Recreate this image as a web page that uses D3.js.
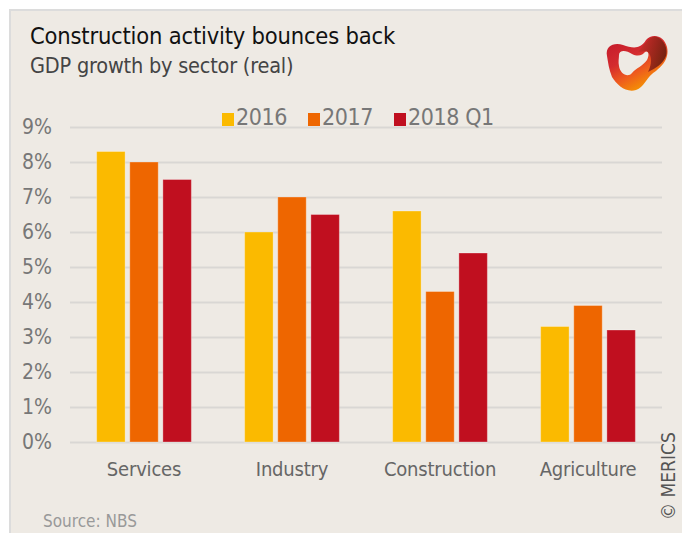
<!DOCTYPE html>
<html>
<head>
<meta charset="utf-8">
<script src="https://cdn.jsdelivr.net/npm/d3@7"></script>
<style>
  body { margin: 0; background: #fff; }
  svg text { font-family: "Liberation Sans Narrow", "DejaVu Sans Condensed", "Roboto", sans-serif; font-stretch: condensed; }
</style>
</head>
<body>
<div id="chart"></div>
<script>
// data
var sectors = ["Services", "Industry", "Construction", "Agriculture"];
var periods = ["2016", "2017", "2018 Q1"];
var growth2016 = [8.3, 6.0, 6.6, 3.3];
var growth2017 = [8.0, 7.0, 4.3, 3.9];
var growth2018q1 = [7.5, 6.5, 5.4, 3.2];
var yTicks = [0, 1, 2, 3, 4, 5, 6, 7, 8, 9];
var colors = ["#fbba00", "#ee6600", "#c00f1f"];

var series = [growth2016, growth2017, growth2018q1];
var rows = sectors.map(function(s, i) {
  return {sector: s, values: periods.map(function(p, j) { return {period: p, value: series[j][i]}; })};
});

var W = 682, H = 533;
var svg = d3.select("#chart").append("svg")
    .attr("width", W)
    .attr("height", H);

// panel
svg.append("rect").attr("x", 10).attr("y", 10).attr("width", W - 10).attr("height", H - 10)
    .attr("fill", "#eeeae4");
svg.append("path").attr("d", "M10," + H + "V10H" + W)
    .attr("fill", "none").attr("stroke", "#dcdcdc").attr("stroke-width", 2);

// titles
svg.append("text").attr("x", 30).attr("y", 44)
    .attr("font-size", 23.5).attr("fill", "#111").attr("letter-spacing", -0.2)
    .text("Construction activity bounces back");
svg.append("text").attr("x", 30).attr("y", 73)
    .attr("font-size", 21.5).attr("fill", "#444").attr("font-weight", 300).attr("letter-spacing", -0.2)
    .text("GDP growth by sector (real)");

// logo
var defs = svg.append("defs");
var grad = defs.append("linearGradient").attr("id", "logoGrad")
    .attr("x1", "0").attr("y1", "0").attr("x2", "0.6").attr("y2", "1");
grad.append("stop").attr("offset", "0%").attr("stop-color", "#c0182a");
grad.append("stop").attr("offset", "45%").attr("stop-color", "#d42b2f");
grad.append("stop").attr("offset", "70%").attr("stop-color", "#ee5a1e");
grad.append("stop").attr("offset", "100%").attr("stop-color", "#f59a00");
var grad2 = defs.append("linearGradient").attr("id", "logoGrad2")
    .attr("x1", "0").attr("y1", "0").attr("x2", "1").attr("y2", "0.4");
grad2.append("stop").attr("offset", "0%").attr("stop-color", "#d8302c");
grad2.append("stop").attr("offset", "100%").attr("stop-color", "#6b1d10");

var logo = svg.append("g");
logo.append("path")
    .attr("fill", "url(#logoGrad)")
    .attr("fill-rule", "evenodd")
    .attr("d", "M607,56 C605,46 614,42 623,45 C632,48 640,50 646,40 C652,33 664,35 667,47 C670,60 660,68 652,74 C646,79 644,87 636,90 C626,93 617,85 612,77 C609,70 608,62 607,56 Z" +
               "M619,55 C619,50 626,50 632,54 C638,57 643,55 645,52 C648,50 650,54 647,60 C643,66 636,68 632,73 C628,78 620,74 619,66 C618,62 619,58 619,55 Z");
logo.append("path")
    .attr("fill", "url(#logoGrad2)")
    .attr("opacity", 0.9)
    .attr("d", "M638,52 C645,44 650,35 657,37 C665,40 668,50 666,56 C663,64 656,68 648,72 C652,64 652,56 648,52 C646,50 642,52 638,52 Z");

// scales
var x0 = d3.scaleBand().domain(sectors).range([70, 662]).paddingInner(0.36).paddingOuter(0.18);
var x1 = d3.scaleBand().domain(periods).range([0, x0.bandwidth()]).paddingInner(0.14);
var y = d3.scaleLinear().domain([0, 9]).range([442, 127]);

// grid + y axis
var yAxis = d3.axisLeft(y).tickValues(yTicks).tickSize(-592).tickPadding(18)
    .tickFormat(function(d) { return d + "%"; });
var yG = svg.append("g").attr("transform", "translate(70,0)").call(yAxis);
yG.select(".domain").remove();
yG.selectAll("line").attr("stroke", "#d9d7d4").attr("stroke-width", 2);
yG.selectAll("text").attr("font-size", 21).attr("fill", "#777").attr("font-weight", 300)
    .style("font-family", null);

// legend
var legend = svg.append("g");
var legX = [222, 308, 394];
periods.forEach(function(p, i) {
  var g = legend.append("g").attr("transform", "translate(" + legX[i] + ",0)");
  g.append("rect").attr("x", 0).attr("y", 113).attr("width", 12).attr("height", 13).attr("fill", colors[i]);
  g.append("text").attr("x", 14).attr("y", 125).attr("font-size", 23).attr("fill", "#777")
      .attr("font-weight", 300).attr("letter-spacing", -0.4).text(p);
});

// bars
var groups = svg.append("g").selectAll("g").data(rows).join("g")
    .attr("transform", function(d) { return "translate(" + x0(d.sector) + ",0)"; });
groups.selectAll("rect").data(function(d) { return d.values; }).join("rect")
    .attr("x", function(d) { return x1(d.period); })
    .attr("y", function(d) { return y(d.value); })
    .attr("width", x1.bandwidth())
    .attr("height", function(d) { return y(0) - y(d.value); })
    .attr("fill", function(d, i) { return colors[i]; })
    .attr("stroke", "rgba(255,255,255,0.3)")
    .attr("stroke-width", 1);

// x axis
var xAxis = d3.axisBottom(x0).tickSize(0).tickPadding(20);
var xG = svg.append("g").attr("transform", "translate(0,442)").call(xAxis);
xG.select(".domain").remove();
xG.selectAll("text").attr("font-size", 20).attr("fill", "#666").attr("font-weight", 300)
    .attr("letter-spacing", -0.2).style("font-family", null);

// source + copyright
svg.append("text").attr("x", 43).attr("y", 527).attr("font-size", 17).attr("fill", "#999")
    .attr("font-weight", 300).text("Source: NBS");
svg.append("text").attr("transform", "translate(675,520) rotate(-90)")
    .attr("font-size", 19).attr("fill", "#555").attr("font-weight", 300)
    .text("\u00a9 MERICS");
</script>
</body>
</html>
